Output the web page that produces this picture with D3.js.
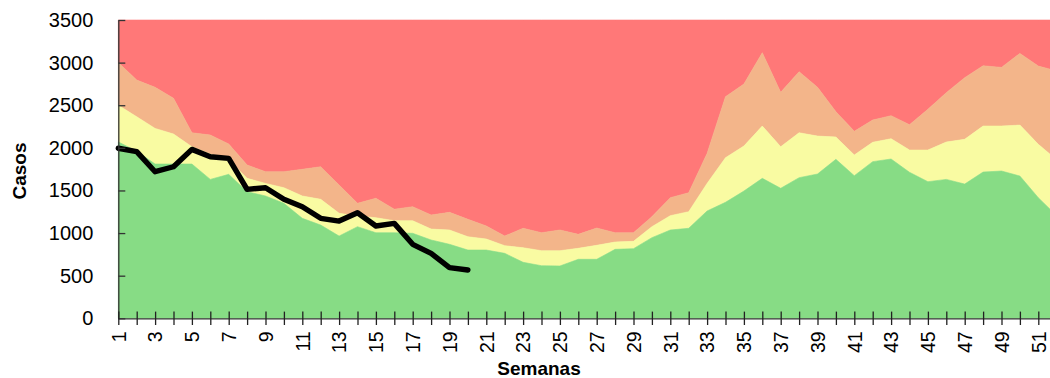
<!DOCTYPE html>
<html>
<head>
<meta charset="utf-8">
<script src="https://cdn.jsdelivr.net/npm/d3@7/dist/d3.min.js"></script>
<style>
  html, body { margin: 0; padding: 0; background: #fff; }
  svg { display: block; }
  text { font-family: "Liberation Sans", Arial, sans-serif; fill: #000; }
</style>
</head>
<body>
<svg id="chart" width="1050" height="378"></svg>
<script>
// Semanas epidemiológicas
const semanas = [1,2,3,4,5,6,7,8,9,10,11,12,13,14,15,16,17,18,19,20,21,22,23,24,25,26,
                 27,28,29,30,31,32,33,34,35,36,37,38,39,40,41,42,43,44,45,46,47,48,49,50,51,52];

// Canal endémico: límites de cada zona (casos)
const zonaExito = [2070,1960,1810,1810,1810,1630,1689,1485,1435,1349,1173,1094,965,1075,1004,1004,
                   997,919,868,801,801,762,657,617,614,692,692,809,817,946,1036,1056,1259,1361,
                   1493,1642,1525,1650,1693,1865,1673,1838,1869,1713,1603,1630,1575,1716,1728,1669,1415,1204];
const zonaSeguridad = [2500,2365,2228,2162,2013,1927,1857,1642,1583,1532,1435,1396,1232,1200,1180,1145,
                       1145,1047,1036,957,930,852,828,793,793,821,856,895,903,1075,1204,1251,1583,1884,
                       2021,2256,2013,2177,2138,2127,1916,2065,2107,1974,1974,2068,2100,2256,2256,2267,2041,1860];
const zonaAlerta = [3000,2795,2710,2581,2177,2150,2045,1798,1720,1720,1748,1778,1564,1349,1408,1280,
                    1309,1212,1243,1161,1083,965,1056,1004,1036,985,1059,1004,1004,1192,1415,1473,1935,2600,
                    2748,3116,2651,2893,2710,2424,2194,2326,2377,2271,2452,2647,2823,2963,2944,3108,2959,2903];

// Casos notificados en el año en curso
const semanasActual = [1,2,3,4,5,6,7,8,9,10,11,12,13,14,15,16,17,18,19,20];
const casosActual = [1995,1955,1720,1778,1982,1896,1877,1513,1532,1396,1309,1173,1141,1239,1083,1114,868,762,594,567];

const yTicks = [0,500,1000,1500,2000,2500,3000,3500];
const yMax = 3500;

const svg = d3.select("#chart");

const x = d3.scaleLinear().domain([1, 52]).range([118.3, 1056.7]);
const y = d3.scaleLinear().domain([0, yMax]).range([318.3, 20]);

const colores = { epidemia: "#ff7878", alerta: "#f3b58a", seguridad: "#f9fba2", exito: "#87dc85" };

const idx = semanas.map((s, i) => i);
const capas = [
  { lo: i => yMax,              hi: i => zonaAlerta[i],    color: colores.epidemia },
  { lo: i => zonaAlerta[i],     hi: i => zonaSeguridad[i], color: colores.alerta },
  { lo: i => zonaSeguridad[i],  hi: i => zonaExito[i],     color: colores.seguridad },
  { lo: i => zonaExito[i],      hi: i => 0,                color: colores.exito }
];

const plot = svg.append("g");
capas.forEach(c => {
  const area = d3.area()
    .x(i => x(semanas[i]))
    .y0(i => y(c.lo(i)))
    .y1(i => y(c.hi(i)));
  plot.append("path")
    .attr("d", area(idx))
    .attr("fill", c.color)
    .attr("stroke", c.color)
    .attr("stroke-width", 0.6);
});

// Curva de casos actuales
const linea = d3.line()
  .x((d, i) => x(semanasActual[i]))
  .y(d => y(d));
plot.append("path")
  .attr("d", linea(casosActual))
  .attr("fill", "none")
  .attr("stroke", "#000")
  .attr("stroke-width", 5.4)
  .attr("stroke-linejoin", "round")
  .attr("stroke-linecap", "round");

// Eje Y
const ejeY = svg.append("g")
  .attr("transform", `translate(${x(1)},0)`)
  .call(d3.axisLeft(y).tickValues(yTicks).tickFormat(d3.format("d"))
    .tickSizeInner(-7).tickSizeOuter(0).tickPadding(25));
ejeY.select(".domain").attr("stroke", "#333").attr("stroke-width", 1.3);
ejeY.selectAll(".tick line").attr("stroke", "#333").attr("stroke-width", 1.3);
ejeY.selectAll(".tick text").style("font-size", "20px").attr("fill", "#000");

// Eje X
const ejeX = svg.append("g")
  .attr("transform", `translate(0,${y(0)})`)
  .call(d3.axisBottom(x).tickValues(semanas)
    .tickFormat(d => d % 2 === 1 ? String(d) : "")
    .tickSizeOuter(0));
ejeX.select(".domain").attr("stroke", "#333").attr("stroke-width", 1.3);
ejeX.selectAll(".tick line").attr("y1", -6.7).attr("y2", 6.7).attr("stroke", "#222").attr("stroke-width", 1.3);
ejeX.selectAll(".tick text")
  .attr("x", 0).attr("y", 0).attr("dy", "0.35em")
  .attr("transform", "translate(0,13) rotate(-90)")
  .attr("text-anchor", "end")
  .style("font-size", "19.5px")
  .attr("fill", "#000");

// Títulos de ejes
svg.append("text")
  .attr("x", 539).attr("y", 375)
  .attr("text-anchor", "middle")
  .style("font-size", "19px").style("font-weight", "bold")
  .text("Semanas");

svg.append("text")
  .attr("transform", "translate(26,171) rotate(-90)")
  .attr("text-anchor", "middle")
  .style("font-size", "19px").style("font-weight", "bold")
  .text("Casos");
</script>
</body>
</html>
